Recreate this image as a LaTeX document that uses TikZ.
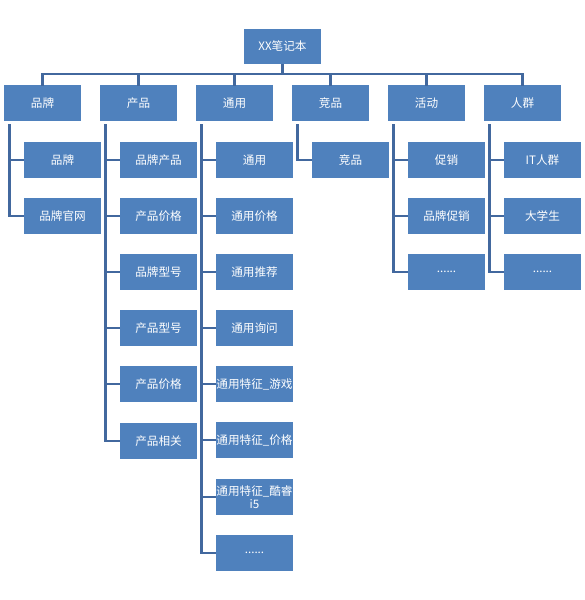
\documentclass[tikz,border=0pt]{standalone}
\usepackage{fontspec}
\setmainfont{Noto Sans CJK SC}
\definecolor{boxblue}{RGB}{79,129,189}
\definecolor{lineblue}{RGB}{66,104,158}
\begin{document}
\begin{tikzpicture}
    [x=1pt, y=-1pt,
    box/.style={fill=boxblue, text=white, minimum width=77pt, minimum height=36pt, inner sep=0pt, align=center, font=\fontsize{11.6}{13.5}\selectfont},
    link/.style={draw=lineblue, line width=2.8pt}]
    \useasboundingbox (0,0) rectangle (585,600);
    % top
    \node[box, minimum height=35pt] (root) at (282.5, 46.5) {XX笔记本};
    \coordinate (bus) at (282.5, 74);
    %
    \node[box] (1) at (42.5, 103)  {品牌};
    \node[box] (2) at (138.5, 103) {产品};
    \node[box] (3) at (234.5, 103) {通用};
    \node[box] (4) at (330.5, 103) {竞品};
    \node[box] (5) at (426.5, 103) {活动};
    \node[box] (6) at (522.5, 103) {人群};
    %
    \node[box] (1a) at (62.5, 160) {品牌};
    \node[box] (1b) at (62.5, 216) {品牌官网};
    %
    \node[box] (2a) at (158.5, 160) {品牌产品};
    \node[box] (2b) at (158.5, 216) {产品价格};
    \node[box] (2c) at (158.5, 272) {品牌型号};
    \node[box] (2d) at (158.5, 328) {产品型号};
    \node[box] (2e) at (158.5, 384) {产品价格};
    \node[box] (2f) at (158.5, 441) {产品相关};
    %
    \node[box] (3a) at (254.5, 160) {通用};
    \node[box] (3b) at (254.5, 216) {通用价格};
    \node[box] (3c) at (254.5, 272) {通用推荐};
    \node[box] (3d) at (254.5, 328) {通用询问};
    \node[box] (3e) at (254.5, 384) {通用特征\_游戏};
    \node[box] (3f) at (254.5, 440) {通用特征\_价格};
    \node[box] (3g) at (254.5, 497) {通用特征\_酷睿\\i5};
    \node[box] (3h) at (254.5, 553) {......};
    %
    \node[box] (4a) at (350.5, 160) {竞品};
    %
    \node[box] (5a) at (446.5, 160) {促销};
    \node[box] (5b) at (446.5, 216) {品牌促销};
    \node[box] (5c) at (446.5, 272) {......};
    %
    \node[box] (6a) at (542.5, 160) {IT人群};
    \node[box] (6b) at (542.5, 216) {大学生};
    \node[box] (6c) at (542.5, 272) {......};
    %
    \draw[link] (root) -- (bus);
    \foreach \p in {1,...,6}
        \draw[link] (bus) -| ([yshift=-1pt]\p.north);
    \foreach \p/\c in {1/1a, 1/1b, 2/2a, 2/2b, 2/2c, 2/2d, 2/2e, 2/2f,
                       3/3a, 3/3b, 3/3c, 3/3d, 3/3e, 3/3f, 3/3g, 3/3h,
                       4/4a, 5/5a, 5/5b, 5/5c, 6/6a, 6/6b, 6/6c}
        \draw[link] ([xshift=6pt, yshift=-3pt]\p.south west) |- (\c.west);
\end{tikzpicture}
\end{document}
